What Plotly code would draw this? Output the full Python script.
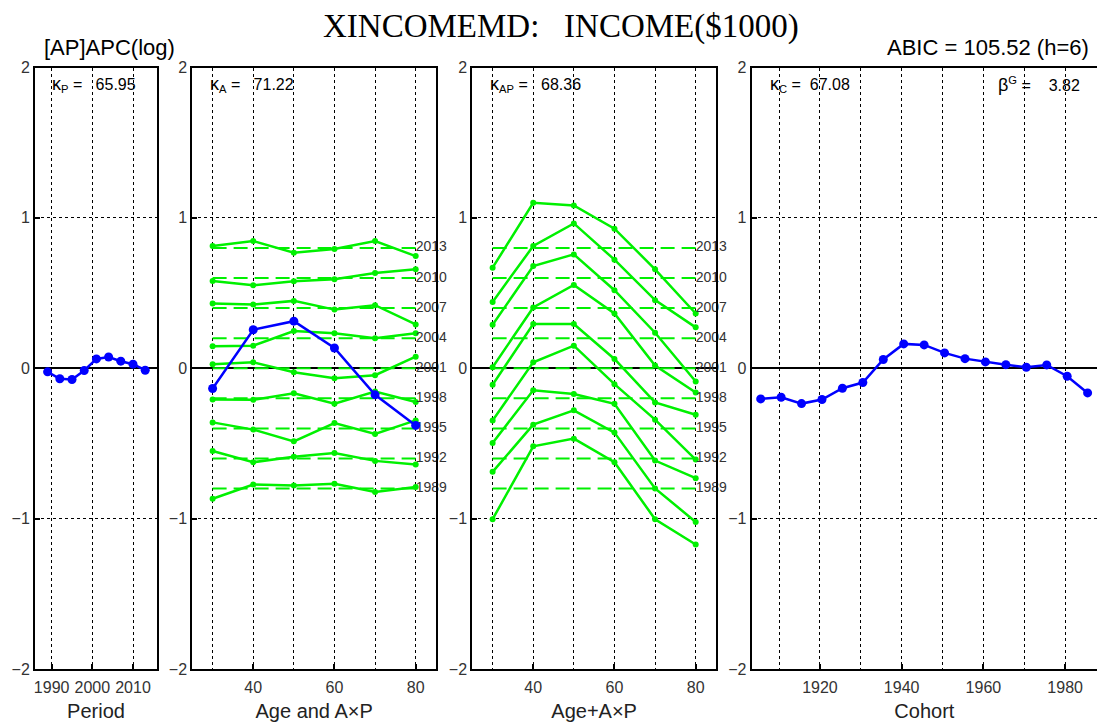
import plotly.graph_objects as go

# ---- data -------------------------------------------------------------
periods = [1989, 1992, 1995, 1998, 2001, 2004, 2007, 2010, 2013]
period_effect = [-0.024, -0.070, -0.075, -0.015, 0.062, 0.075, 0.047, 0.027, -0.013]

ages = [30, 40, 50, 60, 70, 80]
age_effect = [-0.135, 0.256, 0.313, 0.135, -0.177, -0.380]

# reference level of each period's curve (dashed lines)
period_levels = [-0.8, -0.6, -0.4, -0.2, 0.0, 0.2, 0.4, 0.6, 0.8]

# A x P interaction, one row per period (1989 ... 2013)
ap_interaction = [
    [-0.868, -0.773, -0.779, -0.768, -0.823, -0.790],
    [-0.550, -0.625, -0.589, -0.563, -0.616, -0.640],
    [-0.360, -0.408, -0.486, -0.364, -0.437, -0.347],
    [-0.207, -0.210, -0.166, -0.236, -0.155, -0.225],
    [0.026, 0.040, -0.026, -0.066, -0.046, 0.077],
    [0.146, 0.150, 0.247, 0.232, 0.200, 0.232],
    [0.430, 0.424, 0.448, 0.390, 0.419, 0.291],
    [0.580, 0.552, 0.578, 0.592, 0.634, 0.658],
    [0.813, 0.846, 0.768, 0.793, 0.846, 0.746],
]

# Age + A x P, one row per period (1989 ... 2013)
age_plus_ap = [
    [-1.004, -0.519, -0.468, -0.625, -1.004, -1.172],
    [-0.689, -0.375, -0.280, -0.428, -0.799, -1.022],
    [-0.497, -0.146, -0.172, -0.236, -0.614, -0.731],
    [-0.347, 0.040, 0.150, -0.106, -0.342, -0.607],
    [-0.110, 0.294, 0.294, 0.062, -0.227, -0.309],
    [0.007, 0.404, 0.554, 0.364, 0.018, -0.161],
    [0.289, 0.680, 0.757, 0.519, 0.236, -0.088],
    [0.441, 0.813, 0.963, 0.722, 0.453, 0.272],
    [0.669, 1.100, 1.083, 0.928, 0.658, 0.364],
]

cohorts = [1905.5, 1910.5, 1915.5, 1920.5, 1925.5, 1930.5, 1935.5, 1940.5, 1945.5,
           1950.5, 1955.5, 1960.5, 1965.5, 1970.5, 1975.5, 1980.5, 1985.5]
cohort_effect = [-0.204, -0.193, -0.235, -0.208, -0.133, -0.095, 0.058, 0.162, 0.155,
                 0.102, 0.064, 0.042, 0.024, 0.007, 0.022, -0.053, -0.164]

kappa_p, kappa_a, kappa_ap, kappa_c, beta_g = "65.95", "71.22", "68.36", "67.08", "3.82"
abic_text = "ABIC = 105.52 (h=6)"

# ---- styling ---------------------------------------------------------
W, H = 1097, 722
BLUE = "#0000FF"
GREEN = "#00F000"
FONT = "Liberation Sans, Arial, sans-serif"
TICKCOL = "#333333"

def px_x(p):
    return p / W

y_dom = [(H - 669) / H, (H - 67.5) / H]
x_doms = [
    [px_x(35), px_x(157)],
    [px_x(192.3), px_x(436)],
    [px_x(472.3), px_x(716)],
    [px_x(751.7), 1.0],
]

fig = go.Figure()

# Period panel
fig.add_trace(go.Scatter(x=periods, y=period_effect, mode="lines+markers",
                         line=dict(color=BLUE, width=2.5),
                         marker=dict(color=BLUE, size=9),
                         xaxis="x", yaxis="y", showlegend=False))

# Age and A x P panel
for lvl, yrow, per in zip(period_levels, ap_interaction, periods):
    fig.add_trace(go.Scatter(x=[ages[0], ages[-1]], y=[lvl, lvl], mode="lines",
                             line=dict(color=GREEN, width=2, dash="14px,7px"),
                             xaxis="x2", yaxis="y2", showlegend=False))
    fig.add_trace(go.Scatter(x=ages, y=yrow, mode="lines+markers",
                             line=dict(color=GREEN, width=2.5),
                             marker=dict(color=GREEN, size=6),
                             xaxis="x2", yaxis="y2", showlegend=False))
fig.add_trace(go.Scatter(x=[ages[-1]] * len(periods), y=period_levels, mode="text",
                         text=[str(p) for p in periods], textposition="middle right",
                         textfont=dict(family=FONT, size=14, color=TICKCOL),
                         cliponaxis=False, xaxis="x2", yaxis="y2", showlegend=False))
fig.add_trace(go.Scatter(x=ages, y=age_effect, mode="lines+markers",
                         line=dict(color=BLUE, width=2.5),
                         marker=dict(color=BLUE, size=9),
                         xaxis="x2", yaxis="y2", showlegend=False))

# Age + A x P panel
for lvl, yrow in zip(period_levels, age_plus_ap):
    fig.add_trace(go.Scatter(x=[ages[0], ages[-1]], y=[lvl, lvl], mode="lines",
                             line=dict(color=GREEN, width=2, dash="14px,7px"),
                             xaxis="x3", yaxis="y3", showlegend=False))
    fig.add_trace(go.Scatter(x=ages, y=yrow, mode="lines+markers",
                             line=dict(color=GREEN, width=2.5),
                             marker=dict(color=GREEN, size=6),
                             xaxis="x3", yaxis="y3", showlegend=False))
fig.add_trace(go.Scatter(x=[ages[-1]] * len(periods), y=period_levels, mode="text",
                         text=[str(p) for p in periods], textposition="middle right",
                         textfont=dict(family=FONT, size=14, color=TICKCOL),
                         cliponaxis=False, xaxis="x3", yaxis="y3", showlegend=False))

# Cohort panel
fig.add_trace(go.Scatter(x=cohorts, y=cohort_effect, mode="lines+markers",
                         line=dict(color=BLUE, width=2.5),
                         marker=dict(color=BLUE, size=9),
                         xaxis="x4", yaxis="y4", showlegend=False))


def xaxis_cfg(dom, rng, tickvals, title, minor_dtick=None, minor_tick0=None, anchor="y"):
    cfg = dict(domain=dom, range=rng, anchor=anchor, automargin=False,
               tickmode="array", tickvals=tickvals,
               showline=True, linecolor="black", linewidth=2, mirror=True,
               ticks="inside", ticklen=5, tickwidth=1.5, tickcolor="black",
               showgrid=True, gridcolor="black", griddash="dot", gridwidth=1,
               zeroline=False, ticklabelstandoff=3,
               tickfont=dict(family=FONT, size=16, color=TICKCOL),
               title=dict(text=title, font=dict(family=FONT, size=20, color="#222222"),
                          standoff=10),
               fixedrange=True)
    if minor_dtick:
        cfg["minor"] = dict(dtick=minor_dtick, tick0=minor_tick0, showgrid=True,
                            gridcolor="black", griddash="dot", gridwidth=1, ticks="")
    return cfg


def yaxis_cfg(dom, anchor, mirror=True):
    return dict(domain=dom, range=[-2, 2], anchor=anchor, automargin=False,
                tickmode="array", tickvals=[-2, -1, 0, 1, 2],
                ticktext=["\u22122", "\u22121", "0", "1", "2"],
                showline=True, linecolor="black", linewidth=2, mirror=mirror,
                ticks="inside", ticklen=5, tickwidth=1.5, tickcolor="black",
                showgrid=True, gridcolor="black", griddash="dot", gridwidth=1,
                zeroline=True, zerolinecolor="black", zerolinewidth=2,
                tickfont=dict(family=FONT, size=16, color=TICKCOL),
                fixedrange=True)


fig.update_layout(
    width=W, height=H, autosize=False,
    margin=dict(l=0, r=0, t=0, b=0, autoexpand=False),
    paper_bgcolor="white", plot_bgcolor="white",
    xaxis=xaxis_cfg(x_doms[0], [1985.9, 2015.9], [1990, 2000, 2010], "Period", anchor="y"),
    xaxis2=xaxis_cfg(x_doms[1], [25, 85], [40, 60, 80], "Age and A\u00d7P", 10, 30, anchor="y2"),
    xaxis3=xaxis_cfg(x_doms[2], [25, 85], [40, 60, 80], "Age+A\u00d7P", 10, 30, anchor="y3"),
    xaxis4=xaxis_cfg(x_doms[3], [1903.3, 1987.8], [1920, 1940, 1960, 1980], "Cohort", 10, 1910, anchor="y4"),
    yaxis=yaxis_cfg(y_dom, "x"),
    yaxis2=yaxis_cfg(y_dom, "x2"),
    yaxis3=yaxis_cfg(y_dom, "x3"),
    yaxis4=yaxis_cfg(y_dom, "x4", mirror=False),
)

NB = "\u00a0"
ann_font = dict(family=FONT, size=16, color="black")
kap = "<span style='font-size:18px'>\u03ba</span>"
annotations = [
    dict(text="XINCOMEMD:" + NB * 3 + "INCOME($1000)", x=561 / W, y=1 - 27 / H,
         xref="paper", yref="paper", xanchor="center", yanchor="middle", showarrow=False,
         font=dict(family="Liberation Serif, DejaVu Serif, serif", size=33, color="black")),
    dict(text="[AP]APC(log)", x=42 / W, y=1 - 47 / H, xref="paper", yref="paper",
         xanchor="left", yanchor="middle", showarrow=False,
         font=dict(family=FONT, size=22, color="black")),
    dict(text=abic_text, x=1091 / W, y=1 - 47 / H, xref="paper", yref="paper",
         xanchor="right", yanchor="middle", showarrow=False,
         font=dict(family=FONT, size=22, color="black")),
    dict(text=kap + "<sub>P</sub>" + NB + "=" + NB * 3 + kappa_p, x=50 / W, y=1 - 84 / H,
         xref="paper", yref="paper", xanchor="left", yanchor="middle", showarrow=False, font=ann_font),
    dict(text=kap + "<sub>A</sub>" + NB + "=" + NB * 3 + kappa_a, x=208 / W, y=1 - 84 / H,
         xref="paper", yref="paper", xanchor="left", yanchor="middle", showarrow=False, font=ann_font),
    dict(text=kap + "<sub>AP</sub>" + NB + "=" + NB * 3 + kappa_ap, x=488 / W, y=1 - 84 / H,
         xref="paper", yref="paper", xanchor="left", yanchor="middle", showarrow=False, font=ann_font),
    dict(text=kap + "<sub>C</sub>" + NB + "=" + NB * 2 + kappa_c, x=768 / W, y=1 - 84 / H,
         xref="paper", yref="paper", xanchor="left", yanchor="middle", showarrow=False, font=ann_font),
    dict(text="<span style='font-size:18px'>\u03b2</span><sup>G</sup>" + NB + "=" + NB * 4 + beta_g,
         x=996 / W, y=1 - 84 / H,
         xref="paper", yref="paper", xanchor="left", yanchor="middle", showarrow=False, font=ann_font),
]
fig.update_layout(annotations=annotations)

fig.write_html("out.html")
